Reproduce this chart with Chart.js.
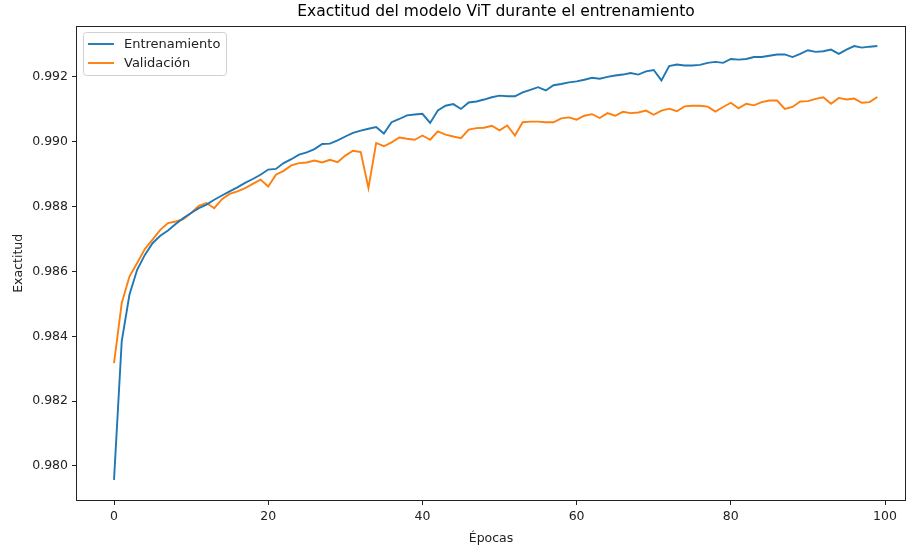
<!DOCTYPE html>
<html>
<head>
<meta charset="utf-8">
<script src="https://cdn.jsdelivr.net/npm/chart.js@4.4.1/dist/chart.umd.min.js"></script>
<style>
  html, body { margin: 0; padding: 0; background: #fff; }
  #wrap { width: 907px; height: 550px; }
</style>
</head>
<body>
<div id="wrap"><canvas id="c" width="907" height="550"></canvas></div>
<script>
const epochs = [0,1,2,3,4,5,6,7,8,9,10,11,12,13,14,15,16,17,18,19,20,21,22,23,24,25,26,27,28,29,30,31,32,33,34,35,36,37,38,39,40,41,42,43,44,45,46,47,48,49,50,51,52,53,54,55,56,57,58,59,60,61,62,63,64,65,66,67,68,69,70,71,72,73,74,75,76,77,78,79,80,81,82,83,84,85,86,87,88,89,90,91,92,93,94,95,96,97,98,99];

const trainAcc = [
  0.97957,0.98384,0.98528,0.98605,0.98651,0.98687,0.98710,0.98726,0.98746,0.98765,
  0.98780,0.98795,0.98806,0.98821,0.98834,0.98847,0.98859,0.98873,0.98885,0.98898,
  0.98914,0.98916,0.98934,0.98946,0.98960,0.98967,0.98977,0.98993,0.98994,0.99004,
  0.99016,0.99027,0.99034,0.99040,0.99045,0.99025,0.99060,0.99070,0.99081,0.99084,
  0.99086,0.99058,0.99096,0.99111,0.99116,0.99101,0.99121,0.99124,0.99130,0.99137,
  0.99142,0.99140,0.99140,0.99152,0.99160,0.99168,0.99158,0.99174,0.99178,0.99183,
  0.99186,0.99191,0.99197,0.99194,0.99200,0.99204,0.99207,0.99212,0.99207,0.99217,
  0.99221,0.99189,0.99233,0.99238,0.99235,0.99235,0.99237,0.99243,0.99246,0.99243,
  0.99255,0.99253,0.99255,0.99261,0.99261,0.99265,0.99269,0.99269,0.99261,0.99271,
  0.99282,0.99277,0.99279,0.99284,0.99271,0.99284,0.99295,0.99290,0.99293,0.99295
];

const valAcc = [
  0.98317,0.98502,0.98584,0.98626,0.98669,0.98698,0.98728,0.98749,0.98754,0.98761,
  0.98780,0.98802,0.98811,0.98795,0.98823,0.98839,0.98847,0.98857,0.98870,0.98883,
  0.98862,0.98898,0.98910,0.98927,0.98934,0.98936,0.98942,0.98936,0.98944,0.98937,
  0.98957,0.98972,0.98968,0.98857,0.98996,0.98986,0.98998,0.99013,0.99009,0.99006,
  0.99019,0.99006,0.99032,0.99022,0.99016,0.99011,0.99037,0.99042,0.99043,0.99049,
  0.99035,0.99050,0.99019,0.99060,0.99062,0.99062,0.99060,0.99060,0.99072,0.99075,
  0.99068,0.99080,0.99085,0.99073,0.99088,0.99080,0.99092,0.99088,0.99090,0.99096,
  0.99083,0.99096,0.99102,0.99094,0.99109,0.99111,0.99111,0.99108,0.99093,0.99107,
  0.99120,0.99103,0.99117,0.99112,0.99122,0.99127,0.99127,0.99101,0.99107,0.99124,
  0.99125,0.99132,0.99137,0.99117,0.99135,0.99130,0.99133,0.99120,0.99122,0.99138
];

const xTicks = [0,20,40,60,80,100];
const yTicks = [0.980,0.982,0.984,0.986,0.988,0.990,0.992];
const seriesNames = ['Entrenamiento','Validación'];
const seriesColors = ['#1f77b4','#ff7f0e'];

const FONT = "'DejaVu Sans', sans-serif";

const toPoints = arr => arr.map((v, i) => ({ x: epochs[i], y: v }));

const framePlugin = {
  id: 'frame',
  afterLayout(chart) {
    const t = chart.titleBlock;
    if (t) {
      t.left = chart.chartArea.left;
      t.right = chart.chartArea.right + 10;
      t.width = t.right - t.left;
    }
  },
  afterDraw(chart) {
    const { ctx, chartArea: a } = chart;
    ctx.save();
    ctx.strokeStyle = '#222';
    ctx.lineWidth = 1;
    ctx.strokeRect(Math.round(a.left) + 0.5, Math.round(a.top) + 0.5,
                   Math.round(a.right - a.left) - 1, Math.round(a.bottom - a.top) - 1);
    // legend
    const bx = 83, by = 32, bw = 143, bh = 43;
    ctx.beginPath();
    if (ctx.roundRect) ctx.roundRect(bx + 0.5, by + 0.5, bw, bh, 3); else ctx.rect(bx + 0.5, by + 0.5, bw, bh);
    ctx.fillStyle = 'rgba(255,255,255,0.8)';
    ctx.fill();
    ctx.strokeStyle = '#d0d0d0';
    ctx.stroke();
    ctx.font = '13px ' + FONT;
    ctx.textBaseline = 'middle';
    ctx.textAlign = 'left';
    const rows = [44, 63];
    seriesNames.forEach((n, i) => {
      ctx.strokeStyle = seriesColors[i];
      ctx.lineWidth = 1.9;
      ctx.beginPath();
      ctx.moveTo(88, rows[i]);
      ctx.lineTo(114, rows[i]);
      ctx.stroke();
      ctx.fillStyle = '#222';
      ctx.fillText(n, 124, rows[i] + 0.5);
    });
    ctx.restore();
  }
};

new Chart(document.getElementById('c'), {
  type: 'line',
  data: {
    datasets: [
      { label: seriesNames[0], data: toPoints(trainAcc), borderColor: seriesColors[0], backgroundColor: seriesColors[0],
        borderWidth: 1.9, pointRadius: 0, tension: 0, fill: false },
      { label: seriesNames[1], data: toPoints(valAcc), borderColor: seriesColors[1], backgroundColor: seriesColors[1],
        borderWidth: 1.9, pointRadius: 0, tension: 0, fill: false }
    ]
  },
  options: {
    responsive: false,
    animation: false,
    events: [],
    layout: { padding: { left: 0, right: 1, top: 0, bottom: 0 } },
    plugins: {
      legend: { display: false },
      tooltip: { enabled: false },
      title: {
        display: true,
        text: 'Exactitud del modelo ViT durante el entrenamiento',
        color: '#000',
        font: { family: FONT, size: 15.5, weight: 'normal', lineHeight: 1.2 },
        padding: { top: 3, bottom: 4 }
      }
    },
    scales: {
      x: {
        type: 'linear',
        min: -4.93,
        max: 102.72,
        afterBuildTicks: s => { s.ticks = xTicks.map(v => ({ value: v })); },
        afterFit: s => { s.height = 49; },
        ticks: { color: '#222', font: { family: FONT, size: 12.5 }, padding: 4, maxRotation: 0,
                 callback: v => String(v) },
        grid: { display: true, drawOnChartArea: false, drawTicks: true, tickLength: 4, color: '#222' },
        border: { display: false },
        title: { display: true, text: 'Épocas', color: '#222', font: { family: FONT, size: 12.5 }, padding: { top: 2, bottom: 4 } }
      },
      y: {
        type: 'linear',
        min: 0.97892,
        max: 0.99358,
        afterBuildTicks: s => { s.ticks = yTicks.map(v => ({ value: v })); },
        afterFit: s => { s.width = 76; },
        ticks: { color: '#222', font: { family: FONT, size: 12.5 }, padding: 4,
                 callback: v => Number(v).toFixed(3) },
        grid: { display: true, drawOnChartArea: false, drawTicks: true, tickLength: 4, color: '#222' },
        border: { display: false },
        title: { display: true, text: 'Exactitud', color: '#222', font: { family: FONT, size: 12.5 }, padding: { top: 11, bottom: 4 } }
      }
    }
  },
  plugins: [framePlugin]
});
</script>
</body>
</html>
